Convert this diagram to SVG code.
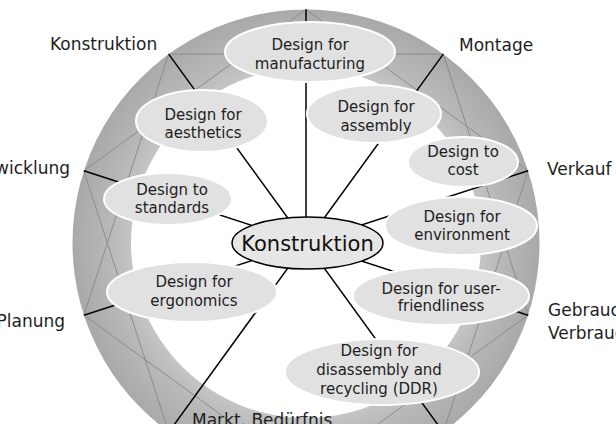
<svg xmlns="http://www.w3.org/2000/svg" width="616" height="424" viewBox="0 0 616 424">
<defs>
<radialGradient id="ringGrad" gradientUnits="userSpaceOnUse" cx="306" cy="243" r="233.5">
<stop offset="0.74" stop-color="#c6c6c6"/>
<stop offset="0.84" stop-color="#b8b8b8"/>
<stop offset="1" stop-color="#a9a9a9"/>
</radialGradient>
<style>
.ring{fill:url(#ringGrad);fill-rule:evenodd}
.truss{fill:none;stroke:#8c8c8c;stroke-width:1}
.spoke{stroke:#000;stroke-width:1.5;fill:none}
.node{fill:#e1e1e1;stroke:#fff;stroke-width:2}
.core{fill:#e6e6e6;stroke:#000;stroke-width:1.5}
.t{font-family:"DejaVu Sans",sans-serif;font-size:15px;fill:#1e1e1e;text-anchor:middle}
.lbl{font-family:"DejaVu Sans",sans-serif;font-size:17px;fill:#1e1e1e}
.ct{font-family:"DejaVu Sans",sans-serif;font-size:21px;fill:#111;text-anchor:middle}
</style>
</defs>
<rect width="616" height="424" fill="#fff"/>
<g id="ring">
<path class="ring" d="M306,9.5 A233.5,233.5 0 1 1 305.99,9.5 Z M306,68 A175,175 0 1 0 306.01,68 Z"/>
<polygon class="truss" points="306,9.5 528.1,170.8 443.3,432.2 168.7,432.2 83.9,170.8"/>
<polygon class="truss" points="443.3,54.1 528.1,315.2 306,476.5 83.9,315.2 168.7,54.1"/>
</g>
<g id="connectors">
<line class="spoke" x1="306" y1="243" x2="306" y2="9.5"/>
<line class="spoke" x1="306" y1="243" x2="443.3" y2="54.1"/>
<line class="spoke" x1="306" y1="243" x2="528.1" y2="170.8"/>
<line class="spoke" x1="306" y1="243" x2="528.1" y2="315.2"/>
<line class="spoke" x1="306" y1="243" x2="443.3" y2="432.2"/>
<line class="spoke" x1="306" y1="243" x2="168.7" y2="432.2"/>
<line class="spoke" x1="306" y1="243" x2="83.9" y2="315.2"/>
<line class="spoke" x1="306" y1="243" x2="83.9" y2="170.8"/>
<line class="spoke" x1="306" y1="243" x2="168.7" y2="54.1"/>
</g>
<g id="n-manufacturing"><ellipse class="node" cx="310" cy="52" rx="85" ry="30"/><text class="t" x="310" y="50">Design for</text><text class="t" x="310" y="69">manufacturing</text></g>
<g id="n-aesthetics"><ellipse class="node" cx="202" cy="121" rx="66" ry="31"/><text class="t" x="203" y="120">Design for</text><text class="t" x="203" y="138">aesthetics</text></g>
<g id="n-assembly"><ellipse class="node" cx="374" cy="114" rx="67" ry="29"/><text class="t" x="376" y="112">Design for</text><text class="t" x="376" y="131">assembly</text></g>
<g id="n-cost"><ellipse class="node" cx="463" cy="162" rx="55" ry="25"/><text class="t" x="463" y="157">Design to</text><text class="t" x="463" y="175">cost</text></g>
<g id="n-environment"><ellipse class="node" cx="461" cy="226" rx="76" ry="29"/><text class="t" x="462" y="222">Design for</text><text class="t" x="462" y="240">environment</text></g>
<g id="n-user"><ellipse class="node" cx="441" cy="296" rx="88" ry="29"/><text class="t" x="441" y="294">Design for user-</text><text class="t" x="441" y="311">friendliness</text></g>
<g id="n-ddr"><ellipse class="node" cx="382" cy="372" rx="97" ry="33"/><text class="t" x="379" y="356">Design for</text><text class="t" x="379" y="375">disassembly and</text><text class="t" x="379" y="394">recycling (DDR)</text></g>
<g id="n-standards"><ellipse class="node" cx="168" cy="199" rx="64" ry="26"/><text class="t" x="172" y="195">Design to</text><text class="t" x="172" y="213">standards</text></g>
<g id="n-ergonomics"><ellipse class="node" cx="192" cy="292" rx="85" ry="30"/><text class="t" x="194" y="287">Design for</text><text class="t" x="194" y="306">ergonomics</text></g>
<g id="n-center"><ellipse class="core" cx="307.5" cy="243" rx="75.5" ry="26"/><text class="ct" x="307.5" y="250.5">Konstruktion</text></g>
<g id="labels">
<text class="lbl" x="50" y="50">Konstruktion</text>
<text class="lbl" x="459" y="51">Montage</text>
<text class="lbl" x="547" y="175">Verkauf</text>
<text class="lbl" x="70" y="174" text-anchor="end">Entwicklung</text>
<text class="lbl" x="65" y="327" text-anchor="end">Planung</text>
<text class="lbl" x="548" y="316">Gebrauch,</text>
<text class="lbl" x="548" y="339">Verbrauch</text>
<text class="lbl" x="192" y="426">Markt, Bedürfnis</text>
</g>
</svg>
